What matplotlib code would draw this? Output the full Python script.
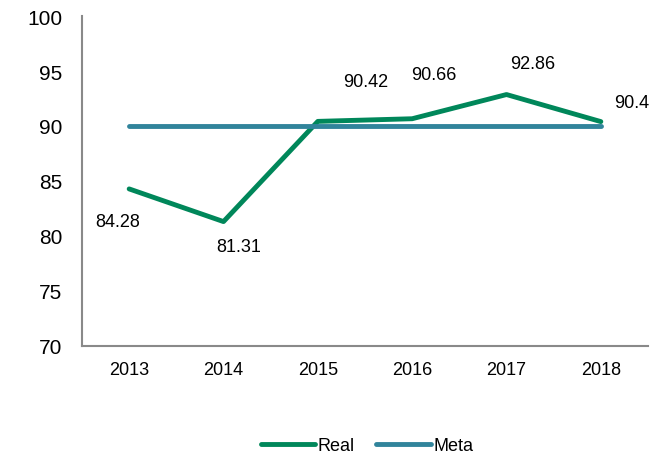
import matplotlib
matplotlib.use('Agg')
import matplotlib.pyplot as plt

years = ['2013', '2014', '2015', '2016', '2017', '2018']
real = [84.28, 81.31, 90.42, 90.66, 92.86, 90.4]
meta = [90, 90, 90, 90, 90, 90]
label_text = ['84.28', '81.31', '90.42', '90.66', '92.86', '90.4']

plt.rcParams['font.family'] = ['Liberation Sans', 'DejaVu Sans']

fig = plt.figure(figsize=(6.64, 4.56), dpi=100)
ax = fig.add_axes([82/664, 1 - 347/456, 566/664, 330/456])

x = list(range(len(years)))
ax.plot(x, real, color='#00875A', lw=3.5, solid_capstyle='round', label='Real')
ax.plot(x, meta, color='#31849B', lw=3.5, solid_capstyle='round', label='Meta')

# data labels, offsets in points
offsets = [(-8.6, -23.5), (10.8, -17.6), (34.6, 28.4), (15.8, 31.5), (18.7, 22.7), (22.3, 13.4)]
for i, (v, t) in enumerate(zip(real, label_text)):
    ax.annotate(t, (x[i], v), xytext=offsets[i], textcoords='offset points',
                ha='center', va='center', fontsize=13)

ax.set_xlim(-0.5, 5.5)
ax.set_ylim(70, 100)
ax.set_yticks([70, 75, 80, 85, 90, 95, 100])
ax.set_xticks(x)
ax.set_xticklabels(years)
ax.tick_params(length=0)
ax.tick_params(axis='y', labelsize=15, pad=14)
ax.tick_params(axis='x', labelsize=13, pad=11)
for s in ['top', 'right']:
    ax.spines[s].set_visible(False)
for s in ['left', 'bottom']:
    ax.spines[s].set_color('#898989')
    ax.spines[s].set_linewidth(1.5)

fig.legend(loc='center', bbox_to_anchor=(367/664, 1 - 447/456), ncol=2, frameon=False,
           fontsize=13, handlelength=3, columnspacing=1.2, handletextpad=0.15,
           borderpad=0)

fig.savefig('out.png', dpi=100)
